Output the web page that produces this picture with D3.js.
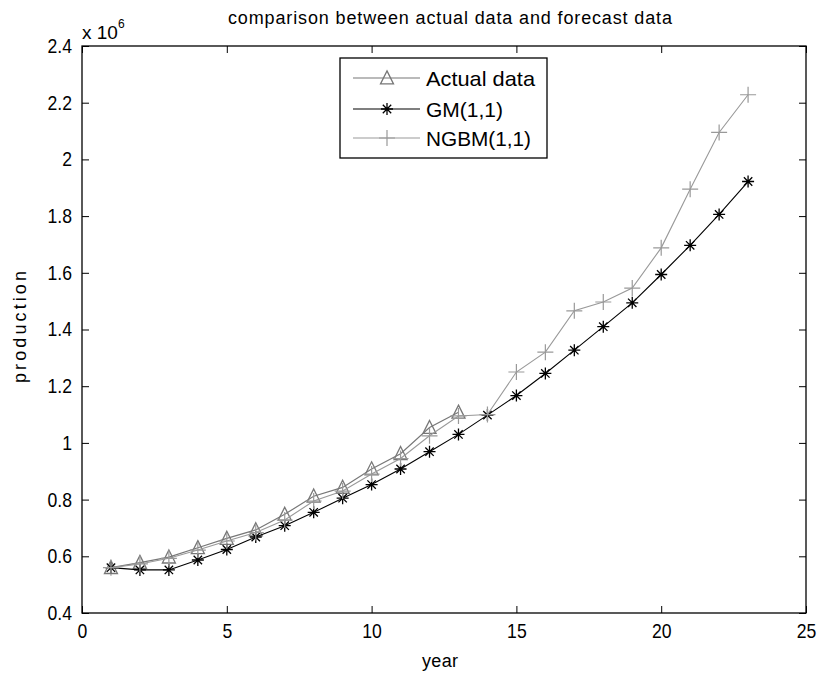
<!DOCTYPE html>
<html>
<head>
<meta charset="utf-8">
<script src="https://cdn.jsdelivr.net/npm/d3@7"></script>
<style>
  body { margin: 0; background: #fff; }
  svg text { font-family: "Liberation Sans", Arial, sans-serif; fill: #000; }
</style>
</head>
<body>
<svg id="chart" width="817" height="675"></svg>
<script>
// Production (x 10^6) by year
const actualYears = [1,2,3,4,5,6,7,8,9,10,11,12,13];
const actualValues = [0.56,0.578,0.597,0.63,0.663,0.693,0.748,0.812,0.843,0.908,0.962,1.054,1.108];

const modelYears = [1,2,3,4,5,6,7,8,9,10,11,12,13,14,15,16,17,18,19,20,21,22,23];
const gmValues = [0.56,0.552,0.552,0.587,0.624,0.668,0.708,0.755,0.805,0.853,0.908,0.969,1.03,1.098,1.167,1.245,1.327,1.41,1.494,1.594,1.697,1.806,1.922];
const ngbmValues = [0.56,0.573,0.593,0.622,0.654,0.684,0.728,0.795,0.83,0.89,0.945,1.025,1.095,1.1,1.25,1.32,1.466,1.497,1.546,1.688,1.895,2.095,2.228];

const xTicks = [0,5,10,15,20,25];
const yTicks = [0.4,0.6,0.8,1,1.2,1.4,1.6,1.8,2,2.2,2.4];

const seriesNames = ["Actual data", "GM(1,1)", "NGBM(1,1)"];

const svg = d3.select("#chart");
const L = 82, R = 806, T = 46, B = 613;

const x = d3.scaleLinear().domain([0,25]).range([L,R]);
const y = d3.scaleLinear().domain([0.4,2.4]).range([B,T]);

const tickLen = 7;
const tickFont = 20;

// Axes with inward ticks on all four sides
const axisG = svg.append("g");
axisG.append("g").attr("transform", `translate(0,${B})`)
  .call(d3.axisBottom(x).tickValues(xTicks).tickSizeInner(-tickLen).tickSizeOuter(0).tickPadding(11).tickFormat(d3.format("d")));
axisG.append("g").attr("transform", `translate(0,${T})`)
  .call(d3.axisTop(x).tickValues(xTicks).tickSizeInner(-tickLen).tickSizeOuter(0).tickFormat(""));
axisG.append("g").attr("transform", `translate(${L},0)`)
  .call(d3.axisLeft(y).tickValues(yTicks).tickSizeInner(-tickLen).tickSizeOuter(0).tickPadding(10).tickFormat(d => d3.format("~g")(d)));
axisG.append("g").attr("transform", `translate(${R},0)`)
  .call(d3.axisRight(y).tickValues(yTicks).tickSizeInner(-tickLen).tickSizeOuter(0).tickFormat(""));

axisG.selectAll(".domain").remove();
axisG.selectAll(".tick line").attr("stroke", "#000").attr("stroke-width", 1);
axisG.selectAll(".tick text").attr("font-size", tickFont).attr("font-family", null)
  .attr("transform", "scale(0.88,1)")
  .each(function() {
    // keep each label anchored at its tick while narrowing the glyphs
    const t = d3.select(this);
    const xAttr = +t.attr("x") || 0;
    t.attr("x", xAttr / 0.88);
  });

// Plot frame
svg.append("rect").attr("x", L).attr("y", T).attr("width", R - L).attr("height", B - T)
  .attr("fill", "none").attr("stroke", "#000").attr("stroke-width", 1.3);

// Marker shapes
function triangle(g, s) {
  g.append("path").attr("d", `M0,${-s*1.1}L${s},${s*0.9}L${-s},${s*0.9}Z`)
    .attr("fill", "none").attr("stroke", "#777").attr("stroke-width", 1.3);
}
function star(g, s) {
  const d = s * 0.7;
  g.append("path").attr("d", `M${-s},0H${s}M0,${-s}V${s}M${-d},${-d}L${d},${d}M${-d},${d}L${d},${-d}`)
    .attr("stroke", "#000").attr("stroke-width", 1.3);
}
function plus(g, s) {
  g.append("path").attr("d", `M${-s},0H${s}M0,${-s}V${s}`)
    .attr("stroke", "#999").attr("stroke-width", 1.2);
}

const line = d3.line().x(d => x(d[0])).y(d => y(d[1]));

const series = [
  { name: seriesNames[0], xs: actualYears, ys: actualValues, color: "#777", width: 1.2, marker: triangle, size: 6.5, len: 109 },
  { name: seriesNames[1], xs: modelYears, ys: gmValues, color: "#000", width: 1.1, marker: star, size: 6, len: 77 },
  { name: seriesNames[2], xs: modelYears, ys: ngbmValues, color: "#999", width: 1.1, marker: plus, size: 8, len: 105 }
];

series.forEach(s => {
  const pts = s.xs.map((v, i) => [v, s.ys[i]]);
  svg.append("path").datum(pts).attr("d", line)
    .attr("fill", "none").attr("stroke", s.color).attr("stroke-width", s.width);
  pts.forEach(p => {
    const g = svg.append("g").attr("transform", `translate(${x(p[0])},${y(p[1])})`);
    s.marker(g, s.size);
  });
});

// Legend
const lg = svg.append("g");
lg.append("rect").attr("x", 340).attr("y", 58).attr("width", 207).attr("height", 100)
  .attr("fill", "#fff").attr("stroke", "#000").attr("stroke-width", 1.3);
const rowY = [78, 109, 138];
series.forEach((s, i) => {
  lg.append("line").attr("x1", 353).attr("x2", 420).attr("y1", rowY[i]).attr("y2", rowY[i])
    .attr("stroke", s.color).attr("stroke-width", s.width);
  const g = lg.append("g").attr("transform", `translate(387,${rowY[i]})`);
  s.marker(g, s.size);
  lg.append("text").attr("x", 426).attr("y", rowY[i]).attr("dy", "0.36em")
    .attr("font-size", 21).attr("textLength", s.len).attr("lengthAdjust", "spacingAndGlyphs")
    .text(s.name);
});

// Title and labels
svg.append("text").attr("x", 228).attr("y", 18).attr("dy", "0.36em")
  .attr("font-size", 18).attr("textLength", 444).attr("lengthAdjust", "spacing")
  .text("comparison between actual data and forecast data");

const mult = svg.append("text").attr("x", 82).attr("y", 39).attr("font-size", 19);
mult.append("tspan").text("x 10");
mult.append("tspan").attr("dy", -11).attr("font-size", 12).text("6");

svg.append("text").attr("x", 422).attr("y", 661).attr("dy", "0.36em")
  .attr("font-size", 18).attr("textLength", 36).attr("lengthAdjust", "spacing").text("year");

svg.append("text").attr("transform", `translate(20,383) rotate(-90)`)
  .attr("dy", "0.36em").attr("font-size", 18).attr("textLength", 112).attr("lengthAdjust", "spacing")
  .text("production");
</script>
</body>
</html>
